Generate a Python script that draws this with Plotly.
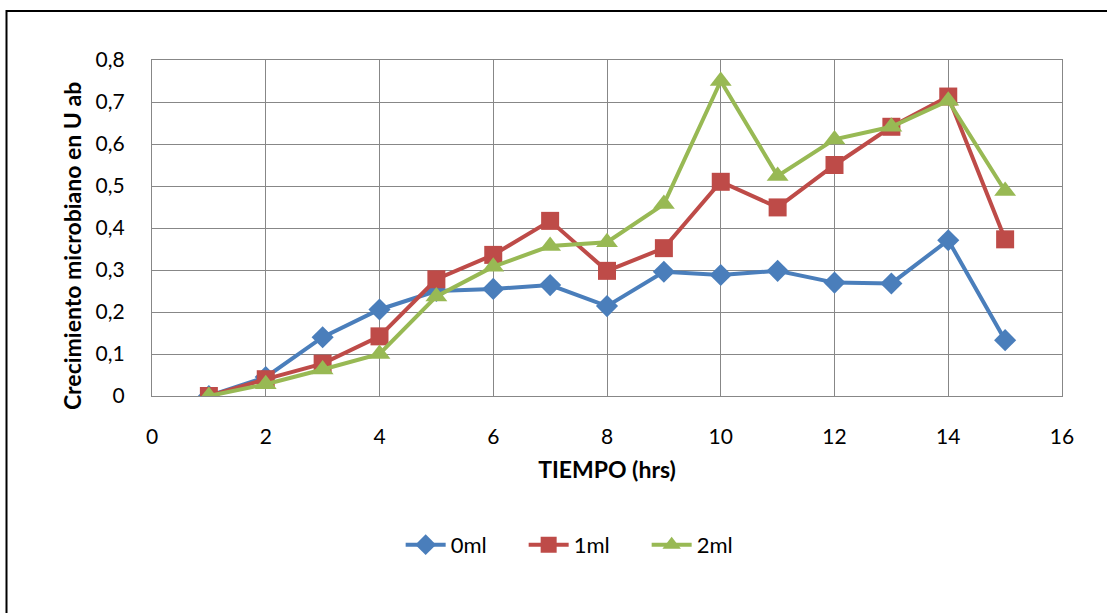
import plotly.graph_objects as go

hours = [1, 2, 3, 4, 5, 6, 7, 8, 9, 10, 11, 12, 13, 14, 15]
ml0 = [0.0, 0.045, 0.14, 0.206, 0.25, 0.255, 0.264, 0.214, 0.296, 0.288, 0.298, 0.270, 0.268, 0.371, 0.133]
ml1 = [0.0, 0.040, 0.077, 0.142, 0.278, 0.336, 0.417, 0.298, 0.352, 0.510, 0.449, 0.550, 0.641, 0.713, 0.373]
ml2 = [0.0, 0.028, 0.063, 0.100, 0.237, 0.308, 0.357, 0.366, 0.457, 0.750, 0.524, 0.611, 0.641, 0.703, 0.488]

series = [
    ("0ml", ml0, "#4A7EBB", "diamond", 17),
    ("1ml", ml1, "#BE4B48", "square", 18),
    ("2ml", ml2, "#98B954", "triangle-up", 19),
]

FONT = "Lato"
fig = go.Figure()
for name, vals, col, sym, sz in series:
    fig.add_trace(go.Scatter(
        x=hours, y=vals, name=name, mode="lines+markers",
        line=dict(color=col, width=4),
        marker=dict(symbol=sym, size=sz, color=col),
    ))

fig.update_layout(
    width=1107, height=613,
    margin=dict(l=152, r=45, t=60, b=217),
    paper_bgcolor="white", plot_bgcolor="white",
    separators=",.",
    font=dict(family=FONT, size=21, color="black"),
    showlegend=True,
    legend=dict(orientation="h", x=0.476, y=-0.443, xanchor="center", yanchor="middle",
                font=dict(size=22), itemwidth=40, entrywidth=68, entrywidthmode="pixels"),
    xaxis=dict(range=[0, 16], dtick=2, tick0=0, showgrid=True, gridcolor="#878787", gridwidth=1.3,
               showline=True, linecolor="#878787", linewidth=1.3, mirror=True, zeroline=False,
               ticks="", ticklabelstandoff=22,
               title=dict(text="<b>TIEMPO (hrs)</b>", standoff=14, font=dict(size=23))),
    yaxis=dict(range=[0, 0.8], dtick=0.1, tick0=0, showgrid=True, gridcolor="#878787", gridwidth=1.3,
               showline=True, linecolor="#878787", linewidth=1.3, mirror=True, zeroline=False,
               ticks="", ticklabelstandoff=22),
    annotations=[dict(text="<b>Crecimiento microbiano en U ab</b>", textangle=-90,
                      xref="paper", yref="paper", x=-0.088, y=0.446,
                      xanchor="center", yanchor="middle", showarrow=False,
                      font=dict(size=23))],
    shapes=[dict(type="rect", xref="paper", yref="paper",
                 x0=(6.5 - 152) / 910, x1=1.2, y0=-0.8, y1=(396 - 11) / 336,
                 line=dict(color="black", width=2), fillcolor="rgba(0,0,0,0)", layer="below")],
)

fig.write_html("out.html")
